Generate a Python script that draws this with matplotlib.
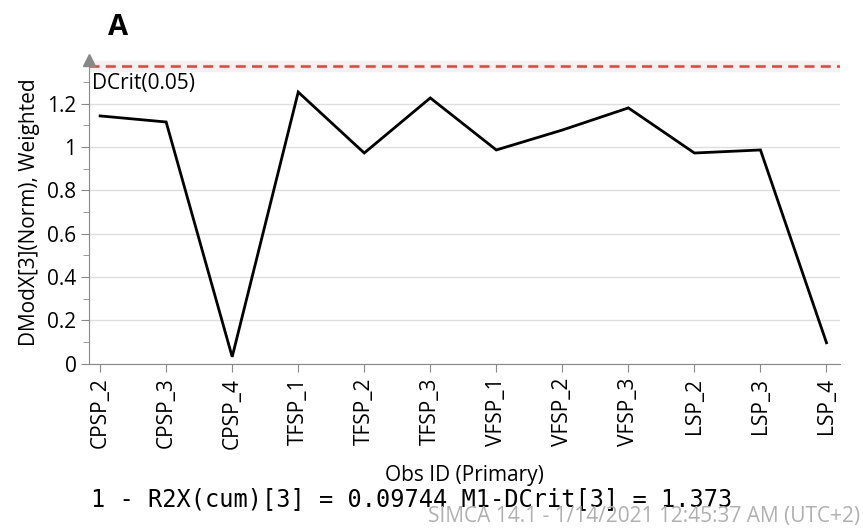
import matplotlib.pyplot as plt
import numpy as np

plt.rcParams['font.family'] = ['Open Sans', 'DejaVu Sans']

obs_ids = ['CPSP_2', 'CPSP_3', 'CPSP_4', 'TFSP_1', 'TFSP_2', 'TFSP_3',
           'VFSP_1', 'VFSP_2', 'VFSP_3', 'LSP_2', 'LSP_3', 'LSP_4']
dmodx = [1.143, 1.115, 0.032, 1.253, 0.972, 1.226,
         0.986, 1.078, 1.180, 0.972, 0.986, 0.097]
dcrit = 1.373
r2x_text = "1 - R2X(cum)[3] = 0.09744 M1-DCrit[3] = 1.373"
footer = "SIMCA 14.1 - 1/14/2021 12:45:37 AM (UTC+2)"

fig = plt.figure(figsize=(8.63, 5.28), dpi=100)
ax = fig.add_axes([0.103, 0.311, 0.870, 0.575])

x = np.arange(len(obs_ids))
ax.plot(x, dmodx, color='black', lw=2, solid_joinstyle='miter')
ax.axhline(dcrit, color='#f03c32', lw=1.8, ls=(0, (4, 2.5)))
ax.axhspan(dcrit - 0.025, dcrit + 0.025, color='#f2f2f2', zorder=0)
ax.text(-0.13, dcrit - 0.03, 'DCrit(0.05)', fontsize=15, va='top', ha='left')

ax.set_xlim(-0.17, len(obs_ids) - 1 + 0.2)
ax.set_ylim(0, 1.40)
ax.set_xticks(x)
ax.set_xticklabels(obs_ids, rotation=90, fontsize=15)
ax.set_yticks([0, 0.2, 0.4, 0.6, 0.8, 1, 1.2])
ax.set_yticklabels(['0', '0.2', '0.4', '0.6', '0.8', '1', '1.2'], fontsize=15)
ax.set_yticks(np.arange(0.1, 1.35, 0.2), minor=True)
ax.tick_params(axis='y', which='major', length=6, color='#888888', pad=3)
ax.tick_params(axis='y', which='minor', length=4, color='#888888')
ax.tick_params(axis='x', length=6, color='#888888', pad=4)
ax.grid(axis='y', color='#dddddd', lw=1)
ax.set_axisbelow(True)

for s in ['top', 'right']:
    ax.spines[s].set_visible(False)
ax.spines['left'].set_color('#888888')
ax.spines['bottom'].set_color('#888888')
ax.plot(0, 1, marker='^', color='#888888', markersize=9,
        transform=ax.transAxes, clip_on=False)

ax.set_xlabel('Obs ID (Primary)', fontsize=15, labelpad=12)
ax.set_ylabel('DModX[3](Norm), Weighted', fontsize=15, labelpad=5)

fig.text(0.125, 0.947, 'A', fontsize=21, fontweight='bold', ha='left', va='center')
fig.text(0.106, 0.055, r2x_text, fontsize=17, family='DejaVu Sans Mono', va='center')
fig.text(0.997, 0.022, footer, fontsize=15, color='#b0b0b0', ha='right', va='center',
         family=['Liberation Sans Narrow', 'Open Sans', 'DejaVu Sans'])

fig.savefig('out.png', dpi=100)
